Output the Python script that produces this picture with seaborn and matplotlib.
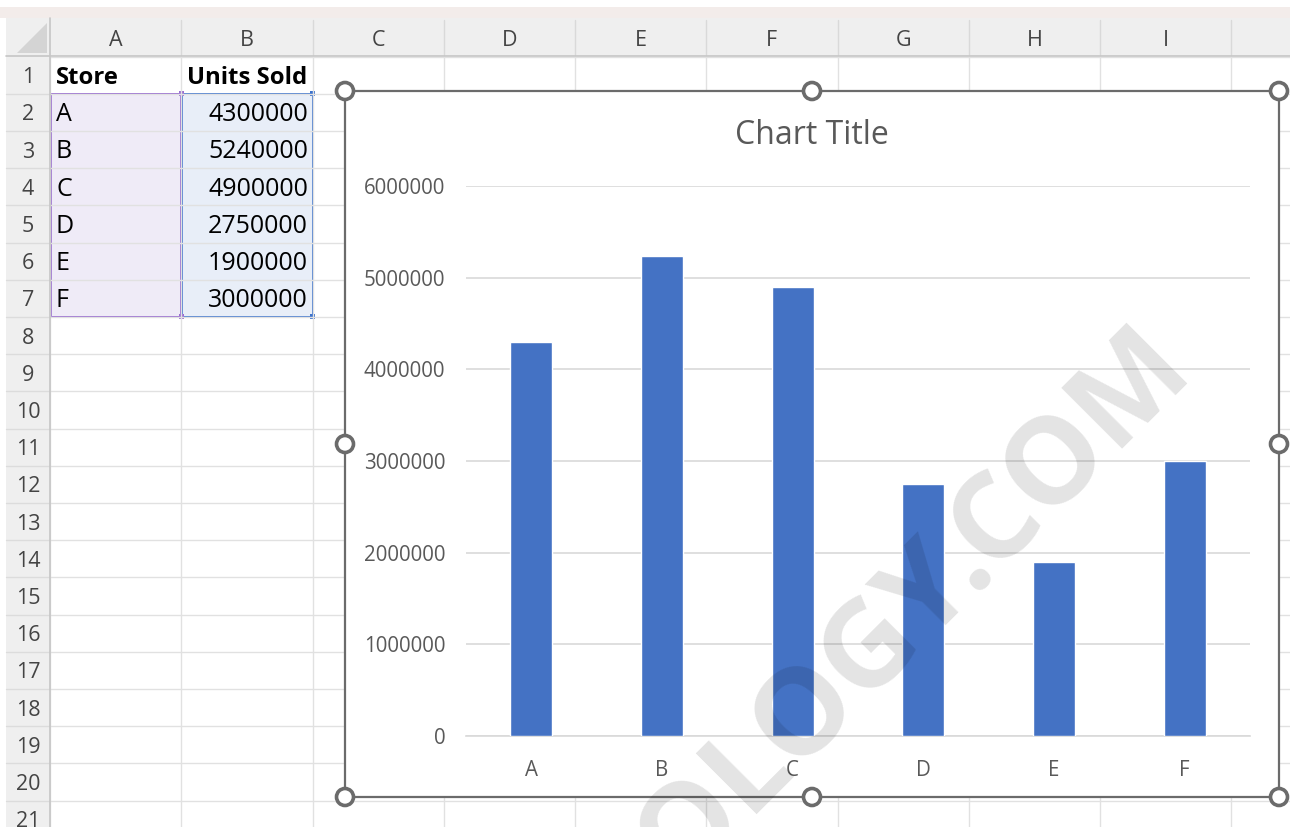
import matplotlib
matplotlib.use("Agg")
import matplotlib.pyplot as plt
from matplotlib.patches import Rectangle, Circle, Polygon
import seaborn as sns

# ---- data ----
stores = ["A", "B", "C", "D", "E", "F"]
units = [4300000, 5240000, 4900000, 2750000, 1900000, 3000000]
col_letters = ["A", "B", "C", "D", "E", "F", "G", "H", "I"]
row_numbers = list(range(1, 22))
y_ticks = [0, 1000000, 2000000, 3000000, 4000000, 5000000, 6000000]
header_cells = ["Store", "Units Sold"]

sns.set_theme(style="white")
plt.rcParams["font.family"] = ["Open Sans", "DejaVu Sans"]

W, H = 1290, 827
fig = plt.figure(figsize=(W / 100, H / 100), dpi=100)

# ---- worksheet background (pixel coordinates) ----
bg = fig.add_axes([0, 0, 1, 1])
bg.set_xlim(0, W)
bg.set_ylim(H, 0)
bg.axis("off")

col_x0, col_w = 50.0, 131.25
row_y0, row_h = 56.5, 37.2
grid_c = "#e1e1e1"
dy_txt = 2.5  # baseline nudge so text sits centred in its cell

# ribbon strip and header bars
bg.add_patch(Rectangle((0, 7), W, 11, color="#f3ecea", lw=0))
bg.add_patch(Rectangle((6, 18), W - 6, 38, color="#efefef", lw=0))
bg.add_patch(Rectangle((6, 18), 44, H - 18, color="#efefef", lw=0))
bg.add_patch(Polygon([[47, 23], [47, 53], [17, 53]], closed=True, color="#d4d4d4", lw=0))

# cell grid lines
for k in range(0, 11):
    x = col_x0 + k * col_w
    bg.plot([x, x], [row_y0, H], color=grid_c, lw=1)
    if k > 0:
        bg.plot([x, x], [20, 55], color="#d9d9d9", lw=1)
for r in range(0, 22):
    y = row_y0 + r * row_h
    bg.plot([col_x0, W], [y, y], color=grid_c, lw=1)
    if r > 0:
        bg.plot([6, 50], [y, y], color="#dcdcdc", lw=1)
bg.plot([6, W], [55.5, 55.5], color="#c6c6c6", lw=1.2)
bg.plot([50, 50], [18, H], color="#c6c6c6", lw=1.2)

# column and row headers
for i, letter in enumerate(col_letters):
    bg.text(col_x0 + (i + 0.5) * col_w, 38 + dy_txt, letter, ha="center", va="center",
            fontsize=15.5, color="#444444")
for r in row_numbers:
    bg.text(28, row_y0 + (r - 0.5) * row_h + dy_txt, str(r), ha="center", va="center",
            fontsize=15.5, color="#444444")

# selected source ranges
top = row_y0 + row_h
bot = row_y0 + 7 * row_h
bg.add_patch(Rectangle((col_x0 + 1, top), col_w - 1, bot - top, color="#efebf7", lw=0))
bg.add_patch(Rectangle((col_x0 + col_w + 1, top), col_w - 1, bot - top, color="#e8eef8", lw=0))
bg.add_patch(Rectangle((col_x0 + 1, top), col_w - 1, bot - top, fill=False,
                       edgecolor="#9a6fd0", lw=1.4))
bg.add_patch(Rectangle((col_x0 + col_w + 1, top), col_w - 1, bot - top, fill=False,
                       edgecolor="#4c7fd0", lw=1.4))
for (sx, sy, sc) in [(col_x0 + col_w, top, "#9a6fd0"), (col_x0 + col_w, bot, "#9a6fd0"),
                     (col_x0 + 2 * col_w, top, "#3d73cc"), (col_x0 + 2 * col_w, bot, "#3d73cc")]:
    bg.add_patch(Rectangle((sx - 2.5, sy - 2.5), 5, 5, color=sc, lw=0))

# cell contents
bg.text(56, row_y0 + 0.5 * row_h + dy_txt, header_cells[0], ha="left", va="center",
        fontsize=17.2, fontweight="bold", color="black")
bg.text(187, row_y0 + 0.5 * row_h + dy_txt, header_cells[1], ha="left", va="center",
        fontsize=17.2, fontweight="bold", color="black")
for i, (s, u) in enumerate(zip(stores, units)):
    yc = row_y0 + (i + 1.5) * row_h + dy_txt
    bg.text(56, yc, s, ha="left", va="center", fontsize=18, color="black")
    bg.text(308, yc, f"{u}", ha="right", va="center", fontsize=18, color="black")

# chart object frame with sizing handles
fx0, fx1, fy0, fy1 = 345, 1279, 91, 797
frame_c = "#6b6b6b"
bg.add_patch(Rectangle((fx0, fy0), fx1 - fx0, fy1 - fy0, facecolor="white",
                       edgecolor=frame_c, lw=1.6, zorder=5))
fxm, fym = (fx0 + fx1) / 2, (fy0 + fy1) / 2
for (hx, hy) in [(fx0, fy0), (fxm, fy0), (fx1, fy0), (fx0, fym), (fx1, fym),
                 (fx0, fy1), (fxm, fy1), (fx1, fy1)]:
    bg.add_patch(Circle((hx, hy), 8.5, facecolor="white", edgecolor=frame_c,
                        lw=2.6, zorder=6))
bg.text(fxm, 135, "Chart Title", ha="center", va="center", fontsize=23,
        color="#595959", zorder=7)

# ---- bar chart ----
px0, px1, py_top, py_bot = 466, 1250, 186, 736
ax = fig.add_axes([px0 / W, (H - py_bot) / H, (px1 - px0) / W, (py_bot - py_top) / H])
ax.set_zorder(2)
ax.patch.set_alpha(0)
sns.barplot(x=stores, y=units, color="#4472C4", saturation=1, width=0.32, ax=ax, zorder=3)
ax.set_ylim(0, 6000000)
ax.set_xlim(-0.5, len(stores) - 0.5)
ax.set_yticks(y_ticks)
ax.set_yticklabels([str(v) for v in y_ticks])
ax.yaxis.grid(True, color="#d9d9d9", lw=1.2, zorder=0)
ax.set_axisbelow(True)
for side in ["top", "right", "left"]:
    ax.spines[side].set_visible(False)
ax.spines["bottom"].set_color("#d9d9d9")
ax.spines["bottom"].set_linewidth(1.2)
ax.tick_params(axis="y", length=0, pad=15, labelsize=14.8, labelcolor="#595959")
ax.tick_params(axis="x", length=0, pad=17, labelsize=14.8, labelcolor="#595959")
ax.set_xlabel("")
ax.set_ylabel("")

# translucent site watermark
fig.text(914 / W, 1 - 605 / H, "OLOGY.COM", rotation=45, rotation_mode="anchor",
         ha="center", va="center", fontsize=87, fontweight="bold",
         color="black", alpha=0.11, zorder=10)

fig.savefig("out.png", dpi=100)
